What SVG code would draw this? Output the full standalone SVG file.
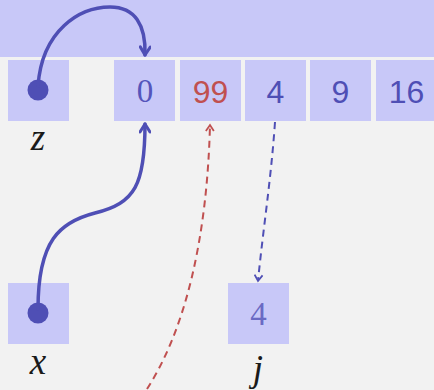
<svg xmlns="http://www.w3.org/2000/svg" width="434" height="390" viewBox="0 0 434 390">
<defs>
<style>
.box{fill:#c8c8f8}
.num{font-family:"Liberation Sans",Arial,sans-serif;font-size:32px;text-anchor:middle;fill:#4f4fb5}
.ser{font-family:"Liberation Serif","Times New Roman",serif;font-size:33px;text-anchor:middle;fill:#5555bb}
.lab{font-family:"Liberation Serif","Times New Roman",serif;font-style:italic;font-size:37px;text-anchor:middle;fill:#1a1a1a}
.ptr{fill:none;stroke:#4f4fb5;stroke-width:3.5;stroke-linecap:round}
.dash{fill:none;stroke-width:2;stroke-dasharray:7 5}
</style>
<marker id="ah" viewBox="0 0 12 12" refX="10" refY="6" markerWidth="12" markerHeight="12" markerUnits="userSpaceOnUse" orient="auto">
<path d="M2 1 L10 6 L2 11" fill="none" stroke="#4f4fb5" stroke-width="3" stroke-linecap="round" stroke-linejoin="round"/>
</marker>
<marker id="ahr" viewBox="0 0 10 10" refX="8" refY="5" markerWidth="10" markerHeight="10" markerUnits="userSpaceOnUse" orient="auto">
<path d="M2 1 L8 5 L2 9" fill="none" stroke="#c05050" stroke-width="1.8"/>
</marker>
<marker id="ahb" viewBox="0 0 10 10" refX="8" refY="5" markerWidth="10" markerHeight="10" markerUnits="userSpaceOnUse" orient="auto">
<path d="M2 1 L8 5 L2 9" fill="none" stroke="#4f4fb5" stroke-width="1.8"/>
</marker>
</defs>
<rect width="434" height="390" fill="#f2f2f2"/>
<rect x="0" y="0" width="434" height="57" class="box"/>
<g id="z"><rect x="8" y="60" width="61" height="61" class="box"/><circle cx="38" cy="90" r="10.5" fill="#4f4fb5"/><text x="38" y="150" class="lab">z</text></g>
<g id="a0"><rect x="114" y="60" width="61" height="61" class="box"/><text x="145" y="102" class="ser">0</text></g>
<g id="a1"><rect x="180" y="60" width="61" height="61" class="box"/><text x="210.5" y="102.5" class="num" style="fill:#c05050">99</text></g>
<g id="a2"><rect x="245" y="60" width="61" height="61" class="box"/><text x="275.5" y="102.5" class="num">4</text></g>
<g id="a3"><rect x="310" y="60" width="61" height="61" class="box"/><text x="340.5" y="102.5" class="num">9</text></g>
<g id="a4"><rect x="376" y="60" width="61" height="61" class="box"/><text x="406.5" y="102.5" class="num">16</text></g>
<g id="x"><rect x="8" y="283" width="61" height="61" class="box"/><circle cx="38" cy="313" r="10.5" fill="#4f4fb5"/><text x="38" y="374" class="lab">x</text></g>
<g id="j"><rect x="228" y="283" width="61" height="61" class="box"/><text x="258.5" y="325" class="ser" style="fill:#6a6ac4">4</text><text x="258" y="381" class="lab">j</text></g>
<g id="connectors">
<path class="ptr" d="M38 86 C 42 30, 80 7, 110 7 C 135 7, 146 25, 145 55" marker-end="url(#ah)"/>
<path class="ptr" d="M38 309 C 38 240, 60 222, 95 213 C 135 203, 145 185, 145 124" marker-end="url(#ah)"/>
<path class="dash" stroke="#c05050" d="M147 389 C 185 330, 207 240, 210 125" marker-end="url(#ahr)"/>
<path class="dash" stroke="#4f4fb5" d="M275 122 C 271 180, 263 230, 258 281" marker-end="url(#ahb)"/>
</g>
</svg>
